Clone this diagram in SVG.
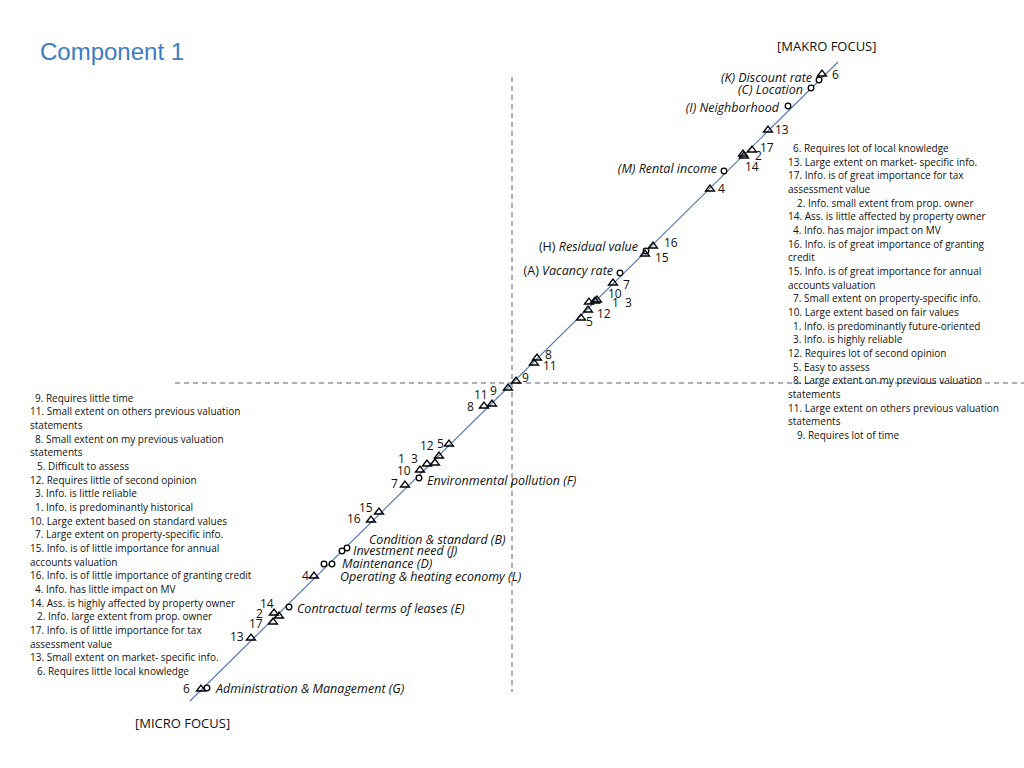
<svg xmlns="http://www.w3.org/2000/svg" width="1024" height="768" viewBox="0 0 1024 768">
<defs>
<style>
text{font-family:"Open Sans","Liberation Sans",sans-serif;fill:#111}
.n{font-size:10px}
.l{font-size:12.5px;font-style:italic}
.num{font-size:12px}
.t{fill:none;stroke:#000;stroke-width:1.3}
.c{fill:#fff;stroke:#000;stroke-width:1.3}
.d{stroke:#8a96aa;stroke-width:1.5;stroke-dasharray:5,4;fill:none}
</style>
<path id="tri" d="M-4.5,3 L0,-3 L4.5,3 Z" class="t"/>
</defs>
<rect width="1024" height="768" fill="#fff"/>
<text x="40" y="60" style="font-family:'Liberation Sans',Arial,sans-serif;font-size:24px;fill:#3d7cc4">Component 1</text>
<text x="777" y="51" style="font-size:13px">[MAKRO FOCUS]</text>
<text x="135" y="728" style="font-size:13px">[MICRO FOCUS]</text>
<g id="axes">
<line x1="512" y1="77" x2="512" y2="692" class="d"/>
<line x1="175" y1="383" x2="1024" y2="383" class="d"/>
<line x1="190" y1="701" x2="838" y2="62" stroke="#5a7bb5" stroke-width="1.2"/>
</g>
<g id="markers">
<use href="#tri" x="822" y="73"/><circle cx="819" cy="80" r="2.8" class="c"/>
<circle cx="811" cy="88" r="2.8" class="c"/><circle cx="788" cy="106" r="2.8" class="c"/>
<use href="#tri" x="768" y="129"/><use href="#tri" x="752" y="149"/>
<use href="#tri" x="743" y="153"/><use href="#tri" x="744" y="155"/>
<circle cx="724" cy="171" r="2.8" class="c"/><use href="#tri" x="710" y="188"/>
<use href="#tri" x="653" y="245"/><circle cx="646" cy="251" r="2.8" class="c"/><use href="#tri" x="645" y="253"/>
<circle cx="620" cy="273" r="2.8" class="c"/><use href="#tri" x="613" y="282"/>
<use href="#tri" x="589" y="301"/><use href="#tri" x="595" y="300"/><use href="#tri" x="597" y="299"/>
<use href="#tri" x="588" y="309"/><use href="#tri" x="581" y="317"/>
<use href="#tri" x="537" y="357"/><use href="#tri" x="534" y="362"/>
<use href="#tri" x="516" y="380"/><use href="#tri" x="508" y="387"/>
<use href="#tri" x="492" y="403"/><use href="#tri" x="484" y="405"/>
<use href="#tri" x="449" y="443"/><use href="#tri" x="439" y="455"/>
<use href="#tri" x="427" y="463"/><use href="#tri" x="435" y="462"/>
<use href="#tri" x="420" y="469"/><circle cx="419" cy="478" r="2.8" class="c"/>
<use href="#tri" x="405" y="484"/><use href="#tri" x="379" y="511"/><use href="#tri" x="371" y="519"/>
<circle cx="347" cy="548" r="2.8" class="c"/><circle cx="342" cy="551" r="2.8" class="c"/>
<circle cx="324" cy="564" r="2.8" class="c"/><circle cx="332" cy="564" r="2.8" class="c"/>
<use href="#tri" x="314" y="575"/><circle cx="289" cy="607" r="2.8" class="c"/>
<use href="#tri" x="274" y="612"/><use href="#tri" x="279" y="615"/>
<use href="#tri" x="273" y="621"/><use href="#tri" x="251" y="637"/>
<use href="#tri" x="201" y="688"/><circle cx="207" cy="688" r="2.8" class="c"/>
</g>
<g id="labels">
<text class="l" x="812" y="82" text-anchor="end">(K) Discount rate</text>
<text class="l" x="803" y="94" text-anchor="end">(C) Location</text>
<text class="l" x="779" y="112" text-anchor="end">(I) Neighborhood</text>
<text class="l" x="717" y="173" text-anchor="end">(M) Rental income</text>
<text class="l" x="638" y="251" text-anchor="end"><tspan font-style="normal">(H) </tspan>Residual value</text>
<text class="l" x="613" y="275" text-anchor="end"><tspan font-style="normal">(A) </tspan>Vacancy rate</text>
<text class="l" x="427" y="485">Environmental pollution (F)</text>
<text class="l" x="369" y="544">Condition &amp; standard (B)</text>
<text class="l" x="353" y="555">Investment need (J)</text>
<text class="l" x="342" y="568">Maintenance (D)</text>
<text class="l" x="340" y="581">Operating &amp; heating economy (L)</text>
<text class="l" x="297" y="613">Contractual terms of leases (E)</text>
<text class="l" x="216" y="693">Administration &amp; Management (G)</text>
</g>
<g id="numbers" class="num">
<text class="num" x="832" y="79">6</text>
<text class="num" x="775" y="134">13</text>
<text class="num" x="760" y="152">17</text>
<text class="num" x="755" y="160">2</text>
<text class="num" x="745" y="171">14</text>
<text class="num" x="718" y="193">4</text>
<text class="num" x="664" y="247">16</text>
<text class="num" x="655" y="262">15</text>
<text class="num" x="623" y="289">7</text>
<text class="num" x="608" y="298">10</text>
<text class="num" x="612" y="307">1</text>
<text class="num" x="625" y="307">3</text>
<text class="num" x="597" y="318">12</text>
<text class="num" x="586" y="326">5</text>
<text class="num" x="545" y="359">8</text>
<text class="num" x="543" y="370">11</text>
<text class="num" x="522" y="382">9</text>
<text class="num" x="490" y="395">9</text>
<text class="num" x="474" y="399">11</text>
<text class="num" x="467" y="411">8</text>
<text class="num" x="437" y="448">5</text>
<text class="num" x="420" y="450">12</text>
<text class="num" x="398" y="463">1</text>
<text class="num" x="411" y="463">3</text>
<text class="num" x="397" y="475">10</text>
<text class="num" x="391" y="488">7</text>
<text class="num" x="359" y="512">15</text>
<text class="num" x="347" y="523">16</text>
<text class="num" x="302" y="580">4</text>
<text class="num" x="260" y="608">14</text>
<text class="num" x="256" y="618">2</text>
<text class="num" x="249" y="628">17</text>
<text class="num" x="230" y="641">13</text>
<text class="num" x="183" y="693">6</text>
</g>
<g id="notes-right" class="n">
<text class="n" x="793" y="152">6. Requires lot of local knowledge</text>
<text class="n" x="788" y="166">13. Large extent on market- specific info.</text>
<text class="n" x="788" y="179">17. Info. is of great importance for tax</text>
<text class="n" x="788" y="193">assessment value</text>
<text class="n" x="797" y="207">2. Info. small extent from prop. owner</text>
<text class="n" x="788" y="220">14. Ass. is little affected by property owner</text>
<text class="n" x="793" y="234">4. Info. has major impact on MV</text>
<text class="n" x="788" y="248">16. Info. is of great importance of granting</text>
<text class="n" x="788" y="261">credit</text>
<text class="n" x="788" y="275">15. Info. is of great importance for annual</text>
<text class="n" x="788" y="289">accounts valuation</text>
<text class="n" x="793" y="302">7. Small extent on property-specific info.</text>
<text class="n" x="788" y="316">10. Large extent based on fair values</text>
<text class="n" x="793" y="330">1. Info. is predominantly future-oriented</text>
<text class="n" x="793" y="343">3. Info. is highly reliable</text>
<text class="n" x="788" y="357">12. Requires lot of second opinion</text>
<text class="n" x="793" y="371">5. Easy to assess</text>
<text class="n" x="793" y="384">8. Large extent on my previous valuation</text>
<text class="n" x="788" y="398">statements</text>
<text class="n" x="788" y="412">11. Large extent on others previous valuation</text>
<text class="n" x="788" y="425">statements</text>
<text class="n" x="797" y="439">9. Requires lot of time</text>
</g>
<g id="notes-left" class="n">
<text class="n" x="35" y="402">9. Requires little time</text>
<text class="n" x="30" y="415">11. Small extent on others previous valuation</text>
<text class="n" x="30" y="429">statements</text>
<text class="n" x="35" y="443">8. Small extent on my previous valuation</text>
<text class="n" x="30" y="456">statements</text>
<text class="n" x="37" y="470">5. Difficult to assess</text>
<text class="n" x="30" y="484">12. Requires little of second opinion</text>
<text class="n" x="35" y="497">3. Info. is little reliable</text>
<text class="n" x="35" y="511">1. Info. is predominantly historical</text>
<text class="n" x="30" y="525">10. Large extent based on standard values</text>
<text class="n" x="35" y="538">7. Large extent on property-specific info.</text>
<text class="n" x="30" y="552">15. Info. is of little importance for annual</text>
<text class="n" x="30" y="566">accounts valuation</text>
<text class="n" x="30" y="579">16. Info. is of little importance of granting credit</text>
<text class="n" x="35" y="593">4. Info. has little impact on MV</text>
<text class="n" x="30" y="607">14. Ass. is highly affected by property owner</text>
<text class="n" x="37" y="620">2. Info. large extent from prop. owner</text>
<text class="n" x="30" y="634">17. Info. is of little importance for tax</text>
<text class="n" x="30" y="648">assessment value</text>
<text class="n" x="30" y="661">13. Small extent on market- specific info.</text>
<text class="n" x="37" y="675">6. Requires little local knowledge</text>
</g>
</svg>
